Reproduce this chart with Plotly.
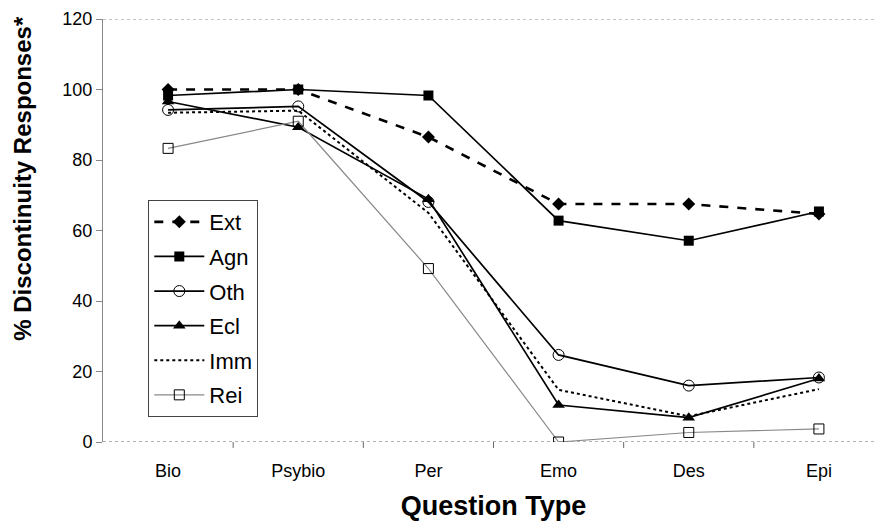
import plotly.graph_objects as go

categories = ["Bio", "Psybio", "Per", "Emo", "Des", "Epi"]
ext = [100, 100, 86.5, 67.5, 67.5, 64.7]
agn = [98.3, 100, 98.3, 62.8, 57.1, 65.4]
oth = [94.2, 95.2, 68.1, 24.7, 16.0, 18.3]
ecl = [96.6, 89.3, 68.9, 10.5, 6.9, 18.0]
imm = [93.4, 94.0, 65.0, 14.8, 7.3, 15.0]
rei = [83.3, 91.0, 49.2, 0.0, 2.7, 3.7]
y_ticks = [0, 20, 40, 60, 80, 100, 120]

fig = go.Figure()
fig.add_trace(go.Scatter(x=categories, y=ext, name="Ext", mode="lines+markers", legendgroup="g1",
                         line=dict(color="black", width=2.6, dash="dash"),
                         marker=dict(symbol="diamond", size=10, color="black")))
fig.add_trace(go.Scatter(x=categories, y=agn, name="Agn", mode="lines+markers", legendgroup="g2",
                         line=dict(color="black", width=1.7),
                         marker=dict(symbol="square", size=10, color="black")))
fig.add_trace(go.Scatter(x=categories, y=oth, name="Oth", mode="lines+markers", legendgroup="g3",
                         line=dict(color="black", width=1.7),
                         marker=dict(symbol="circle-open", size=11, color="black", line=dict(width=1))))
fig.add_trace(go.Scatter(x=categories, y=ecl, name="Ecl", mode="lines+markers", legendgroup="g4",
                         line=dict(color="black", width=1.7),
                         marker=dict(symbol="triangle-up", size=11, color="black")))
fig.add_trace(go.Scatter(x=categories, y=imm, name="Imm", mode="lines", legendgroup="g5",
                         line=dict(color="black", width=2, dash="dot")))
fig.add_trace(go.Scatter(x=categories, y=rei, name="Rei", mode="lines+markers", legendgroup="g6",
                         line=dict(color="#888888", width=1.2),
                         marker=dict(symbol="square-open", size=10, color="black", line=dict(width=1))))

fig.update_layout(
    width=876, height=523,
    margin=dict(l=95, r=0, t=11, b=89, autoexpand=False),
    paper_bgcolor="white", plot_bgcolor="white",
    font=dict(family="Arial, Liberation Sans, sans-serif", color="black"),
    showlegend=True,
    legend=dict(x=0.058, y=0.572, xanchor="left", yanchor="top",
                bordercolor="#444444", borderwidth=1, bgcolor="white",
                font=dict(size=22), itemwidth=50, tracegroupgap=3),
)
fig.update_xaxes(
    type="category", range=[-0.5, 5.5], automargin=False,
    showline=False, showgrid=False, zeroline=False,
    ticks="", tickfont=dict(size=18), ticklabelstandoff=16,
    title=dict(text="<b>Question Type</b>", font=dict(size=27), standoff=16),
)
fig.update_yaxes(
    range=[0, 120], tickvals=y_ticks, ticks="outside", ticklen=6, tickcolor="#888888",
    showline=True, linecolor="#888888", linewidth=1, mirror=False, automargin=False,
    showgrid=False, zeroline=False, tickfont=dict(size=18),
)
fig.add_annotation(text="<b>% Discontinuity Responses*</b>", xref="paper", yref="paper",
                   x=-0.104, y=0.624, xanchor="center", yanchor="middle", textangle=-90,
                   showarrow=False, font=dict(size=24))
# dotted top and bottom borders of the plot area
fig.add_shape(type="line", xref="paper", yref="y", x0=0, x1=1, y0=120, y1=120,
              line=dict(color="#888888", width=1, dash="dot"))
fig.add_shape(type="line", xref="paper", yref="y", x0=0, x1=1, y0=0, y1=0,
              line=dict(color="#666666", width=1, dash="dot"), layer="below")
# category separator ticks on the x axis
for i in range(len(categories) - 1):
    fig.add_shape(type="line", xref="x", yref="paper", x0=i + 0.5, x1=i + 0.5,
                  y0=0, y1=-0.014, line=dict(color="#666666", width=1))

fig.write_html("out.html")
